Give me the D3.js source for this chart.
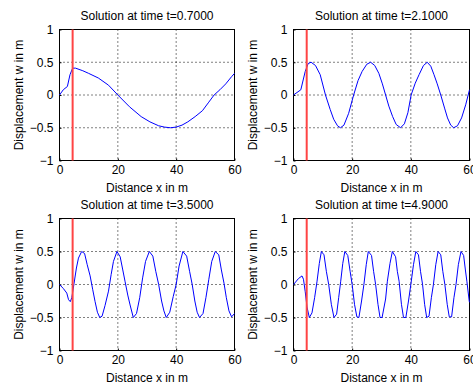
<!DOCTYPE html>
<html>
  <meta charset="utf-8" />
  <script src="https://d3js.org/d3.v7.min.js"></script>
  <style>
    body { margin: 0; background: #fff; }
    text { font-family: "Liberation Sans", Arial, sans-serif; font-size: 12px; fill: #000; }
  </style>
  <body>
    <svg id="chart" width="473" height="387"></svg>
    <script>
      // Snapshot times, one panel each
      var times = ["0.7000", "2.1000", "3.5000", "4.9000"]

      // Position of the source marker (red line), m
      var sourceX = 4.5

      // Ticks
      var xTicks = [0, 20, 40, 60]
      var yTicks = [-1, -0.5, 0, 0.5, 1]

      // Displacement: [x, w]
      var wave07 = [[0,0],[1.3,0.08],[2.7,0.13],[3.6,0.31],[4.5,0.41],[5.5,0.41],[8,0.37],[10,0.33],
        [13.3,0.26],[16.8,0.15],[20,0],[24,-0.18],[28,-0.33],[31,-0.41],[34,-0.47],[36,-0.49],
        [38,-0.5],[40,-0.49],[42,-0.46],[44,-0.41],[46.5,-0.33],[49,-0.24],[51,-0.12],[53,0],
        [55,0.08],[57,0.17],[59,0.28],[60,0.33]]

      var wave21 = [[0,0],[2.5,0.08],[4,0.36],[5,0.48],[6,0.5],[7.5,0.45],[9.1,0.31],[10.9,0],
        [12.5,-0.22],[13.7,-0.37],[15,-0.47],[16,-0.5],[17.2,-0.46],[18.8,-0.28],[20.5,0],[22,0.22],
        [23.4,0.36],[25,0.47],[26.3,0.5],[27.7,0.45],[29.1,0.33],[30.3,0.17],[31.4,0],[32.5,-0.17],
        [33.8,-0.33],[35,-0.45],[36.5,-0.5],[37.8,-0.44],[39,-0.27],[40.1,0],[41.5,0.18],[42.8,0.31],
        [44.3,0.45],[45.6,0.5],[46.8,0.44],[47.9,0.31],[49,0.17],[50.2,0],[51.5,-0.2],[52.5,-0.35],
        [53.6,-0.46],[54.6,-0.5],[55.9,-0.47],[57.3,-0.35],[58.7,-0.15],[60,0.08]]

      var wave35 = [[0,0],[1.3,-0.06],[2.5,-0.13],[3.1,-0.23],[3.7,-0.26],[4.2,-0.2],[4.5,-0.12],
        [5,0.02],[5.8,0.25],[6.5,0.4],[7.6,0.5],[8.6,0.47],[9.5,0.3],[10.5,0.13],[11.4,-0.08],
        [12.2,-0.26],[13,-0.42],[13.8,-0.5],[14.6,-0.48],[15.6,-0.32],[16.8,-0.1],[17.7,0.15],
        [18.5,0.35],[19.7,0.5],[20.8,0.42],[21.7,0.22],[22.5,0.04],[23.4,-0.16],[24.2,-0.31],
        [25.3,-0.5],[26.4,-0.44],[27.5,-0.2],[28.5,0.1],[29.5,0.35],[30.8,0.5],[32,0.43],[33,0.2],
        [34,0],[35,-0.25],[35.8,-0.4],[36.6,-0.5],[37.8,-0.42],[39,-0.18],[40,0],[41,0.28],
        [42.3,0.5],[43.6,0.43],[44.6,0.2],[45.5,0],[46.4,-0.25],[47.2,-0.42],[48,-0.5],[49.2,-0.44],
        [50.2,-0.2],[51.2,0.08],[52.2,0.35],[53.4,0.5],[54.6,0.45],[55.5,0.22],[56.4,0.02],
        [57.2,-0.2],[58.1,-0.4],[59,-0.49],[60,-0.44]]

      var wave49 = [[0,0],[1.7,0.09],[2.9,0.13],[3.4,0.08],[4,-0.11],[4.6,-0.34],[5.4,-0.5],
        [6.3,-0.43],[7.2,-0.2],[8,0.04],[8.8,0.32],[9.5,0.5],[10.4,0.45],[11.2,0.2],[12,0],
        [12.9,-0.3],[13.8,-0.5],[14.7,-0.45],[15.4,-0.2],[16.1,0.05],[16.8,0.32],[17.5,0.5],
        [18.5,0.44],[19.3,0.2],[20,0],[20.8,-0.3],[21.6,-0.49],[22.3,-0.5],[23.2,-0.25],[24,0],
        [24.8,0.3],[25.5,0.5],[26.6,0.44],[27.3,0.2],[28,0],[28.8,-0.3],[29.5,-0.5],[30.2,-0.5],
        [31.4,-0.22],[32,0.05],[32.9,0.32],[33.7,0.5],[34.8,0.42],[35.4,0.2],[36,0.05],[36.8,-0.3],
        [37.5,-0.5],[38.3,-0.5],[39.2,-0.25],[40,0],[40.9,0.3],[41.7,0.5],[42.6,0.45],[43.3,0.2],
        [44,0],[44.7,-0.3],[45.4,-0.5],[46.2,-0.48],[47,-0.2],[47.7,0],[48.5,0.3],[49.3,0.5],
        [50.2,0.45],[50.9,0.2],[51.6,0],[52.4,-0.3],[53.1,-0.49],[53.9,-0.49],[54.7,-0.2],[55.4,0],
        [56.2,0.3],[57.1,0.5],[58,0.44],[58.6,0.22],[59.1,0.05],[59.9,-0.25],[60,-0.27]]

      var waves = [wave07, wave21, wave35, wave49]

      var svg = d3.select("#chart")

      // panel frames (left, right, top, bottom)
      var frames = [
        [59.5, 234.5, 29.5, 160.5],
        [293.5, 469.5, 29.5, 160.5],
        [59.5, 234.5, 218.5, 350.5],
        [293.5, 469.5, 218.5, 350.5]
      ]

      frames.forEach(function(f, i) {
        var x = d3.scaleLinear().domain([0, 60]).range([f[0], f[1]])
        var y = d3.scaleLinear().domain([-1, 1]).range([f[3], f[2]])
        var g = svg.append("g")

        // dotted grid
        g.selectAll(".gx")
          .data(xTicks.slice(1, -1))
          .enter()
          .append("line")
          .attr("x1", d => x(d)).attr("x2", d => x(d))
          .attr("y1", f[2]).attr("y2", f[3])
          .attr("stroke", "#000")
          .attr("stroke-dasharray", "1,3")
        g.selectAll(".gy")
          .data(yTicks.slice(1, -1))
          .enter()
          .append("line")
          .attr("y1", d => y(d)).attr("y2", d => y(d))
          .attr("x1", f[0]).attr("x2", f[1])
          .attr("stroke", "#000")
          .attr("stroke-dasharray", "1,3")

        // axes, ticks pointing inward
        g.append("g")
          .attr("transform", "translate(0," + f[3] + ")")
          .call(d3.axisBottom(x).tickValues(xTicks).tickSize(-2).tickPadding(5))
        g.append("g")
          .attr("transform", "translate(" + f[0] + ",0)")
          .call(d3.axisLeft(y).tickValues(yTicks).tickSize(-2).tickPadding(6).tickFormat(d3.format("")))
        g.selectAll(".domain").remove()
        g.selectAll(".tick text")
          .style("font-family", '"Liberation Sans", Arial, sans-serif')
          .style("font-size", "12px")
          .attr("fill", "#000")

        g.append("rect")
          .attr("x", f[0]).attr("y", f[2])
          .attr("width", f[1] - f[0]).attr("height", f[3] - f[2])
          .attr("fill", "none")
          .attr("stroke", "#000")

        // wave
        g.append("path")
          .datum(waves[i])
          .attr("fill", "none")
          .attr("stroke", "#0000ff")
          .attr("stroke-width", 1)
          .attr("d", d3.line().x(d => x(d[0])).y(d => y(d[1])))

        // source marker
        g.append("line")
          .attr("x1", x(sourceX)).attr("x2", x(sourceX))
          .attr("y1", y(-1)).attr("y2", y(1))
          .attr("stroke", "#ff4444")
          .attr("stroke-width", 2)

        // labels
        g.append("text")
          .attr("x", (f[0] + f[1]) / 2)
          .attr("y", f[2] - 10)
          .attr("text-anchor", "middle")
          .text("Solution at time t=" + times[i])
        g.append("text")
          .attr("x", (f[0] + f[1]) / 2)
          .attr("y", f[3] + 31)
          .attr("text-anchor", "middle")
          .text("Distance x in m")
        g.append("text")
          .attr("transform", "translate(" + (f[0] - 37) + "," + (f[2] + f[3]) / 2 + ") rotate(-90)")
          .attr("text-anchor", "middle")
          .text("Displacement w in m")
      })
    </script>
  </body>
</html>
